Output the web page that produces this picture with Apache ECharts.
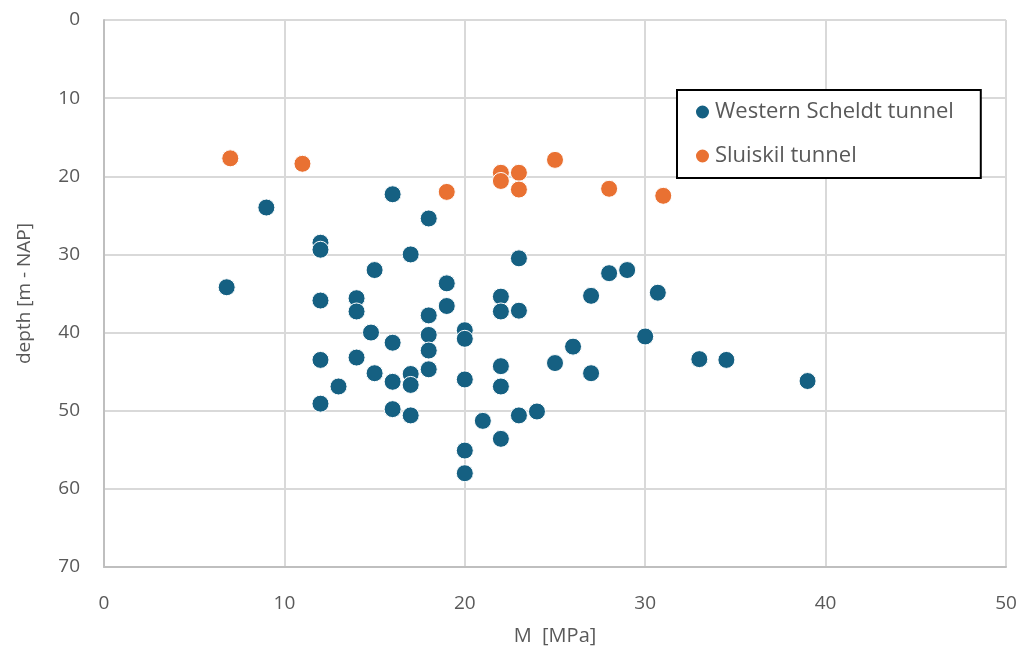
<!DOCTYPE html>
<html>
<head>
<meta charset="utf-8">
<script src="https://cdn.jsdelivr.net/npm/echarts@6/dist/echarts.min.js"></script>
<style>html,body{margin:0;padding:0;background:#fff}#c{width:1031px;height:655px}</style>
</head>
<body>
<div id="c"></div>
<script>
const seriesNames = ['Western Scheldt tunnel', 'Sluiskil tunnel'];
const xTicks = [0, 10, 20, 30, 40, 50];
const yTicks = [0, 10, 20, 30, 40, 50, 60, 70];
const westernM = [6.8, 9, 12, 12, 12, 12, 12, 13, 14, 14, 14, 14.8, 15, 15, 16, 16, 16, 16, 17, 17, 17, 17, 18, 18, 18, 18, 18, 19, 19, 20, 20, 20, 20, 20, 21, 22, 22, 22, 22, 22, 23, 23, 23, 24, 25, 26, 27, 27, 28, 29, 30, 30.7, 33, 34.5, 39];
const westernDepth = [34.2, 24.0, 28.5, 29.4, 35.9, 43.5, 49.1, 46.9, 35.6, 37.3, 43.2, 40.0, 32.0, 45.2, 22.3, 41.3, 46.3, 49.8, 30.0, 45.3, 46.7, 50.6, 25.4, 37.8, 40.3, 42.3, 44.7, 33.7, 36.6, 39.7, 40.8, 46.0, 55.1, 58.0, 51.3, 35.4, 37.3, 44.3, 46.9, 53.6, 30.5, 37.2, 50.6, 50.1, 43.9, 41.8, 35.3, 45.2, 32.4, 32.0, 40.5, 34.9, 43.4, 43.5, 46.2];
const sluiskilM = [7, 11, 19, 22, 22, 23, 23, 25, 28, 31];
const sluiskilDepth = [17.7, 18.4, 22.0, 19.55, 20.6, 19.55, 21.7, 17.9, 21.6, 22.5];

const pair = (xs, ys) => xs.map((x, i) => [x, ys[i]]);
const FONT = '"Open Sans", "Noto Sans", sans-serif';
const chart = echarts.init(document.getElementById('c'), null, {renderer: 'canvas'});
chart.setOption({
  animation: false,
  backgroundColor: '#ffffff',
  textStyle: {fontFamily: FONT},
  grid: {left: 104, top: 20, right: 25, bottom: 88, containLabel: false},
  legend: {
    orient: 'vertical',
    left: 677, top: 90,
    backgroundColor: '#ffffff',
    borderColor: '#000000', borderWidth: 2,
    padding: [11, 27, 11, 17],
    itemGap: 22,
    itemWidth: 15, itemHeight: 15,
    icon: 'circle',
    textStyle: {fontSize: 22, lineHeight: 22, color: '#595959', fontFamily: FONT},
    data: seriesNames
  },
  xAxis: {
    type: 'value', min: xTicks[0], max: xTicks[xTicks.length - 1], interval: 10,
    name: 'M  [MPa]', nameLocation: 'middle', nameGap: 59,
    nameTextStyle: {fontSize: 20, color: '#595959'},
    axisLine: {show: true, onZero: false, lineStyle: {color: '#bfbfbf', width: 2}},
    axisTick: {show: false},
    axisLabel: {fontSize: 19, color: '#595959', margin: 27},
    splitLine: {show: true, lineStyle: {color: '#d9d9d9', width: 2}}
  },
  yAxis: {
    type: 'value', inverse: true, min: yTicks[0], max: yTicks[yTicks.length - 1], interval: 10,
    name: 'depth [m - NAP]', nameLocation: 'middle', nameGap: 70, nameRotate: 90,
    nameTextStyle: {fontSize: 19, color: '#595959'},
    axisLine: {show: true, onZero: false, lineStyle: {color: '#bfbfbf', width: 2}},
    axisTick: {show: false},
    axisLabel: {fontSize: 19, color: '#595959', margin: 24},
    splitLine: {show: true, lineStyle: {color: '#d9d9d9', width: 2}}
  },
  series: [
    {
      name: seriesNames[0], type: 'scatter', symbol: 'circle', symbolSize: 17,
      itemStyle: {color: '#156082', borderColor: '#ffffff', borderWidth: 1, opacity: 1},
      data: pair(westernM, westernDepth), z: 3
    },
    {
      name: seriesNames[1], type: 'scatter', symbol: 'circle', symbolSize: 17,
      itemStyle: {color: '#E97132', borderColor: '#ffffff', borderWidth: 1, opacity: 1},
      data: pair(sluiskilM, sluiskilDepth), z: 4
    }
  ]
});
</script>
</body>
</html>
